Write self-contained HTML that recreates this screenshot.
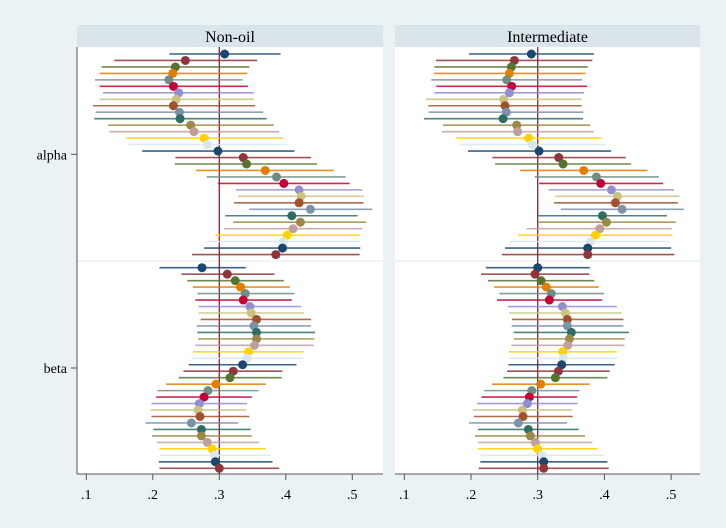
<!DOCTYPE html>
<html><head><meta charset="utf-8"><style>
html,body{margin:0;padding:0;background:#eaf2f3;}
svg{display:block;font-family:"Liberation Serif",serif;}
</style></head><body>
<svg id="chart" width="726" height="528" viewBox="0 0 726 528" xmlns="http://www.w3.org/2000/svg">
<rect x="0" y="0" width="726" height="528" fill="#eaf2f3"/>
</svg>
<script>
const categories = ["alpha","beta"];
const panelTitles = ["Non-oil","Intermediate"];
const xTicks = [0.1,0.2,0.3,0.4,0.5];
const xTickLabels = [".1",".2",".3",".4",".5"];
const refValue = 0.3;
// Non-oil alpha: point, lo, hi
const nonoilAlphaPt = [0.308,0.249,0.234,0.230,0.224,0.231,0.239,0.235,0.231,0.240,0.241,0.257,0.262,0.277,0.282,0.298,0.336,0.341,0.369,0.386,0.397,0.420,0.423,0.420,0.437,0.409,0.422,0.411,0.402,0.396,0.395,0.385];
const nonoilAlphaLo = [0.225,0.142,0.123,0.120,0.113,0.120,0.125,0.120,0.110,0.114,0.112,0.133,0.135,0.160,0.162,0.184,0.234,0.233,0.265,0.281,0.298,0.325,0.328,0.322,0.345,0.309,0.321,0.307,0.294,0.281,0.277,0.259];
const nonoilAlphaHi = [0.392,0.357,0.345,0.342,0.335,0.343,0.352,0.352,0.354,0.366,0.371,0.382,0.390,0.396,0.402,0.413,0.438,0.447,0.472,0.490,0.496,0.515,0.517,0.517,0.530,0.508,0.521,0.515,0.511,0.511,0.512,0.511];
const nonoilBetaPt = [0.274,0.312,0.324,0.332,0.339,0.336,0.346,0.348,0.356,0.352,0.356,0.356,0.353,0.344,0.342,0.335,0.321,0.316,0.295,0.283,0.277,0.270,0.268,0.271,0.258,0.273,0.273,0.282,0.289,0.293,0.294,0.300];
const nonoilBetaLo = [0.210,0.243,0.252,0.260,0.267,0.264,0.269,0.269,0.272,0.266,0.267,0.268,0.264,0.261,0.258,0.254,0.246,0.239,0.220,0.207,0.205,0.198,0.197,0.198,0.189,0.201,0.199,0.206,0.210,0.211,0.209,0.210];
const nonoilBetaHi = [0.340,0.383,0.397,0.406,0.413,0.409,0.423,0.427,0.438,0.438,0.444,0.443,0.442,0.427,0.426,0.416,0.395,0.394,0.370,0.359,0.349,0.342,0.340,0.345,0.328,0.347,0.349,0.360,0.370,0.377,0.380,0.390];
const interAlphaPt = [0.2905,0.265,0.2605,0.2575,0.2535,0.261,0.2575,0.249,0.251,0.253,0.248,0.2685,0.270,0.2865,0.2915,0.302,0.3315,0.338,0.369,0.388,0.3945,0.4105,0.4195,0.4165,0.4265,0.397,0.403,0.393,0.3865,0.379,0.375,0.375];
const interAlphaLo = [0.197,0.1475,0.145,0.1445,0.1405,0.148,0.145,0.1325,0.136,0.1365,0.1295,0.158,0.1565,0.1775,0.1825,0.1955,0.232,0.236,0.2735,0.2955,0.302,0.3165,0.3265,0.3245,0.3345,0.300,0.3015,0.2835,0.271,0.2585,0.251,0.246];
const interAlphaHi = [0.3845,0.382,0.375,0.3715,0.3665,0.374,0.3695,0.366,0.366,0.3685,0.368,0.379,0.3845,0.396,0.402,0.410,0.432,0.440,0.4645,0.4815,0.488,0.5045,0.5125,0.510,0.519,0.494,0.507,0.501,0.502,0.499,0.500,0.505];
const interBetaPt = [0.300,0.296,0.305,0.313,0.3205,0.3175,0.337,0.3415,0.3445,0.3445,0.3505,0.3475,0.345,0.3375,0.3385,0.336,0.331,0.3265,0.3045,0.291,0.2875,0.2845,0.277,0.278,0.271,0.286,0.289,0.2965,0.300,0.3065,0.309,0.309];
const interBetaLo = [0.2225,0.215,0.2255,0.2345,0.2425,0.239,0.2555,0.257,0.2615,0.261,0.264,0.2645,0.2605,0.2565,0.257,0.256,0.254,0.2485,0.2315,0.2195,0.2155,0.209,0.203,0.204,0.197,0.2105,0.206,0.2105,0.2105,0.2145,0.214,0.2115];
const interBetaHi = [0.378,0.3775,0.385,0.3915,0.3995,0.3965,0.4185,0.426,0.4285,0.4285,0.4365,0.4305,0.430,0.4185,0.4195,0.4155,0.408,0.4045,0.378,0.3625,0.359,0.360,0.3515,0.3525,0.344,0.3615,0.371,0.382,0.390,0.399,0.4045,0.4065];

const palette = ["#1a476f","#90353b","#55752f","#e37e00","#6e8e84","#c10534","#938dd2","#cac27e","#a0522d","#7b92a8","#2d6d66","#9c8847","#bfa19c","#ffd200","#d9e6eb"];
const NS = "http://www.w3.org/2000/svg";
const svg = document.getElementById("chart");
function mk(tag, attrs, parent){
  const e = document.createElementNS(NS, tag);
  for (const k in attrs) e.setAttribute(k, attrs[k]);
  (parent||svg).appendChild(e); return e;
}
const panels = [
  {x0:77, x1:383, ax:86.3, bx:665, data:[[nonoilAlphaPt,nonoilAlphaLo,nonoilAlphaHi],[nonoilBetaPt,nonoilBetaLo,nonoilBetaHi]]},
  {x0:395, x1:700, ax:404.3, bx:667, data:[[interAlphaPt,interAlphaLo,interAlphaHi],[interBetaPt,interBetaLo,interBetaHi]]}
];
const plotTop = 47, plotBottom = 474;
const groupStart = [54, 267.7], rowStep = 6.47;
const tickY = [154.3, 368];

panels.forEach((p, pi) => {
  const xs = v => p.ax + (v - 0.1) * p.bx;
  const g = mk("g", {});
  
  
  const hdr = mk("rect", {x:p.x0, y:25, width:p.x1-p.x0, height:22, fill:"#d9e5ea"}, g);
  
  
  const ht = mk("text", {x:(p.x0+p.x1)/2, y:42, "text-anchor":"middle", "font-size":"16", fill:"#000"}, g);
  ht.textContent = panelTitles[pi];
  
  
  const pr = mk("rect", {x:p.x0, y:plotTop, width:p.x1-p.x0, height:plotBottom-plotTop, fill:"#fff"}, g);
  
  
  const sep = mk("line", {x1:p.x0, x2:p.x1, y1:261, y2:261, stroke:"#eaf2f3", "stroke-width":1.5}, g);
  
  
  const ref = mk("line", {x1:xs(refValue), x2:xs(refValue), y1:plotTop, y2:plotBottom, stroke:"#c10534", "stroke-width":1.3}, g);
  
  
  p.data.forEach((series, gi) => {
    const [pt, lo, hi] = series;
    pt.forEach((v, i) => {
      const y = groupStart[gi] + i * rowStep;
      const c = palette[i % palette.length];
      const l = mk("line", {x1:xs(lo[i]), x2:xs(hi[i]), y1:y, y2:y, stroke:c, "stroke-width":1.6, "stroke-opacity":0.85}, g);
      
      
    });
    pt.forEach((v, i) => {
      const y = groupStart[gi] + i * rowStep;
      const c = palette[i % palette.length];
      const m = mk("circle", {cx:xs(v), cy:y, r:4.5, fill:c}, g);
      
      
    });
  });
  const axl = mk("line", {x1:p.x0, x2:p.x1, y1:plotBottom, y2:plotBottom, stroke:"#555", "stroke-width":1}, g);
  
  
  xTicks.forEach((t, i) => {
    const tk = mk("line", {x1:xs(t), x2:xs(t), y1:plotBottom, y2:plotBottom+6, stroke:"#555", "stroke-width":1}, g);
    
    
    const tl = mk("text", {x:xs(t), y:499, "text-anchor":"middle", "font-size":"14", fill:"#000"}, g);
    tl.textContent = xTickLabels[i];
    
    
  });
});
const yax = mk("line", {x1:77, x2:77, y1:plotTop, y2:plotBottom, stroke:"#555", "stroke-width":1});


categories.forEach((c, i) => {
  const tk = mk("line", {x1:71, x2:77, y1:tickY[i], y2:tickY[i], stroke:"#555", "stroke-width":1});
  
  
  const tl = mk("text", {x:67, y:tickY[i]+5, "text-anchor":"end", "font-size":"14", fill:"#000"});
  tl.textContent = c;
  
  
});
</script>
</body></html>
